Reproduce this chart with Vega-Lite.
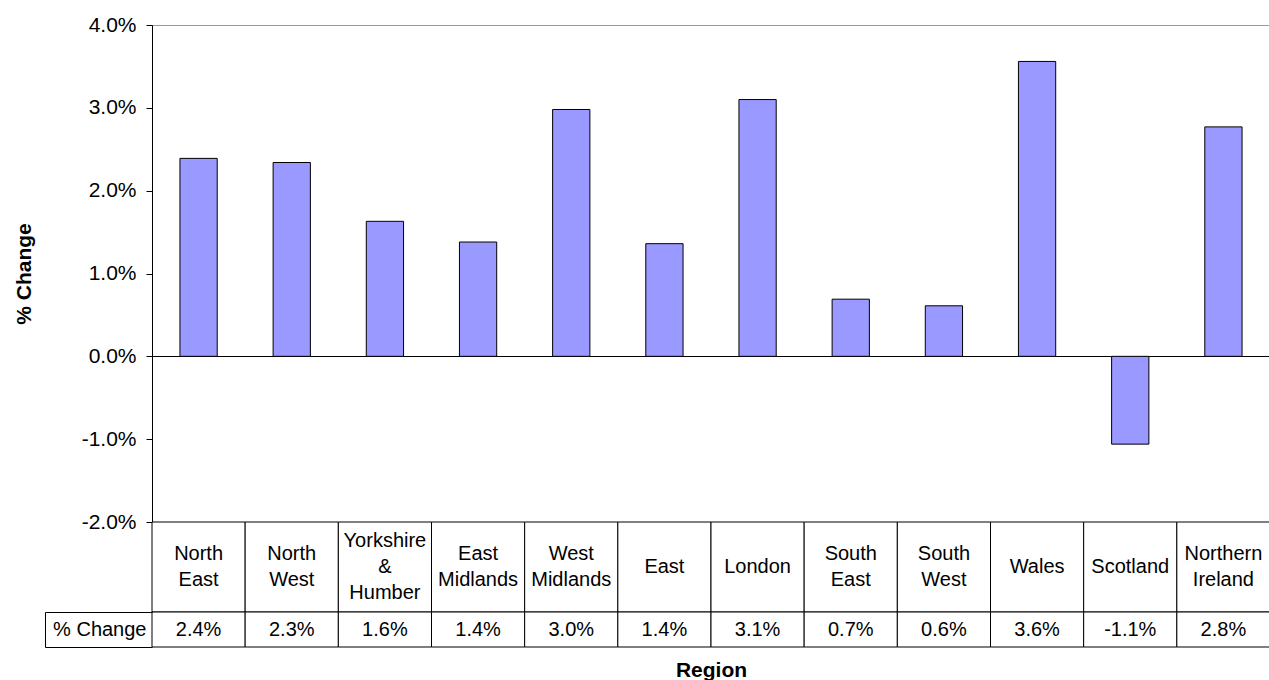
{
  "$schema": "https://vega.github.io/schema/vega-lite/v6.json",
  "padding": {"left": 13, "top": 14, "right": 0, "bottom": 0},
  "autosize": {"type": "pad"},
  "bounds": "flush",
  "spacing": 0,
  "config": {
    "view": {"stroke": null},
    "font": "Liberation Sans",
    "locale": {"number": {"decimal": ".", "thousands": ",", "grouping": [3], "currency": ["$", ""], "minus": "-"}},
    "axis": {"labelFont": "Liberation Sans", "titleFont": "Liberation Sans", "labelColor": "black", "titleColor": "black"}
  },
  "datasets": {
    "regions": [
      {"region": "North East", "lines": ["North", "East"], "change": 0.0239},
      {"region": "North West", "lines": ["North", "West"], "change": 0.0234},
      {"region": "Yorkshire & Humber", "lines": ["Yorkshire", "&", "Humber"], "change": 0.0163},
      {"region": "East Midlands", "lines": ["East", "Midlands"], "change": 0.0138},
      {"region": "West Midlands", "lines": ["West", "Midlands"], "change": 0.0298},
      {"region": "East", "lines": ["East"], "change": 0.0136},
      {"region": "London", "lines": ["London"], "change": 0.0310},
      {"region": "South East", "lines": ["South", "East"], "change": 0.0069},
      {"region": "South West", "lines": ["South", "West"], "change": 0.0061},
      {"region": "Wales", "lines": ["Wales"], "change": 0.0356},
      {"region": "Scotland", "lines": ["Scotland"], "change": -0.0106},
      {"region": "Northern Ireland", "lines": ["Northern", "Ireland"], "change": 0.0277}
    ]
  },
  "vconcat": [
    {
      "width": 1118,
      "height": 497,
      "data": {"name": "regions"},
      "mark": {"type": "bar", "color": "#9999FF", "stroke": "black", "strokeWidth": 1},
      "encoding": {
        "x": {"field": "region", "type": "nominal", "sort": null, "scale": {"paddingInner": 0.6, "paddingOuter": 0.3}, "axis": null},
        "y": {
          "field": "change", "type": "quantitative",
          "scale": {"domain": [-0.02, 0.04], "nice": false, "zero": false},
          "axis": {
            "title": "% Change", "format": ".1%",
            "values": [-0.02, -0.01, 0, 0.01, 0.02, 0.03, 0.04],
            "grid": true,
            "gridColor": {"condition": {"test": "datum.value === 0", "value": "#000000"}, "value": "#999999"},
            "gridOpacity": {"condition": {"test": "datum.value === 0 || datum.value > 0.035", "value": 1}, "value": 0},
            "domainColor": "black", "tickColor": "black", "tickSize": 6,
            "labelPadding": 10, "labelFontSize": 21, "labelFlush": false, "labelOverlap": false,
            "titleFontSize": 21, "titleFontWeight": "bold", "titlePadding": 47
          }
        }
      }
    },
    {
      "width": 1118,
      "height": 90,
      "data": {"name": "regions"},
      "encoding": {
        "x": {"field": "region", "type": "nominal", "sort": null, "scale": {"padding": 0}, "axis": null}
      },
      "layer": [
        {"mark": {"type": "rect", "fill": "white", "stroke": "black", "strokeWidth": 1}},
        {"mark": {"type": "text", "fontSize": 20, "lineHeight": 26, "baseline": "middle", "color": "black", "font": "Liberation Sans",
                  "dy": {"expr": "-13 * (length(datum.lines) - 1)"}},
         "encoding": {"text": {"field": "lines", "type": "nominal"}}}
      ]
    },
    {
      "width": 1118,
      "height": 35,
      "data": {"name": "regions"},
      "encoding": {
        "x": {"field": "region", "type": "nominal", "sort": null, "scale": {"padding": 0},
              "axis": {"title": "Region", "labels": false, "ticks": false, "domain": false, "titleFontSize": 21, "titleFontWeight": "bold", "titlePadding": 12}}
      },
      "layer": [
        {"mark": {"type": "rect", "fill": "white", "stroke": "black", "strokeWidth": 1},
         "encoding": {"y": {"datum": "% Change", "type": "nominal",
           "axis": {"orient": "left", "title": null, "tickBand": "extent", "tickSize": 107, "tickColor": "black", "domain": false, "labelPadding": -101, "labelFontSize": 20}}}},
        {"mark": {"type": "text", "fontSize": 20, "baseline": "middle", "color": "black", "font": "Liberation Sans"},
         "encoding": {
           "y": {"datum": "% Change", "type": "nominal",
             "axis": {"orient": "left", "offset": 107, "title": null, "labels": false, "ticks": false, "domain": true, "domainColor": "black"}},
           "text": {"field": "change", "type": "quantitative", "format": ".1%"}}}
      ],
      "resolve": {"axis": {"y": "independent"}}
    }
  ]
}
